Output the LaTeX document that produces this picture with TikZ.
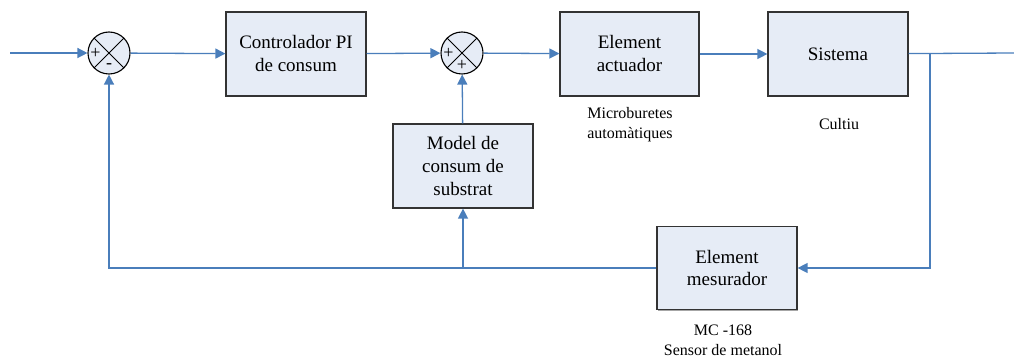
\documentclass[tikz,border=0pt]{standalone}
\usepackage{fontspec}
\setmainfont{Liberation Serif}
\usetikzlibrary{arrows.meta,positioning,shadows}
\definecolor{wireblue}{HTML}{4A7EBB}
\definecolor{blkfill}{HTML}{E6ECF6}
\tikzset{blk/.style={draw=black!80, line width=1.2pt, fill=blkfill, align=center, font=\fontsize{19}{23}\selectfont, drop shadow={shadow xshift=1.2pt, shadow yshift=-1.2pt, opacity=0.7}}}
\tikzset{sumj/.style={circle, draw=black, line width=1.1pt, fill=blkfill, minimum size=42pt, inner sep=0pt}}
\tikzset{sgn/.style={inner sep=0pt, font=\fontsize{18}{18}\selectfont}}
\tikzset{wire/.style={draw=wireblue, line width=1.3pt}}
\tikzset{arr/.style={wire, -{Triangle[length=10pt, width=10pt]}}}
\tikzset{note/.style={align=center, font=\fontsize{16}{20}\selectfont}}

\begin{document}
\begin{tikzpicture}[x=1pt, y=-1pt]
	\useasboundingbox (0,0) rectangle (1014,358);

	% summing junctions
	\node[sumj] (S1) at (109,53) {};
	\node[sumj] (S2) at (462,53) {};
	\foreach \s in {S1,S2}{
		\draw[line width=0.9pt] (\s.north west) -- (\s.south east);
		\draw[line width=0.9pt] (\s.north east) -- (\s.south west);
	}
	\node[sgn] at ([xshift=8pt]S1.west) {+};
	\node[sgn] at ([yshift=9pt]S1.south) {-};
	\node[sgn] at ([xshift=8pt]S2.west) {+};
	\node[sgn] at ([yshift=9pt]S2.south) {+};

	% blocks
	\node[blk, minimum width=140pt, minimum height=84pt] (ctrl) at (296,54) {Controlador PI\\de consum};
	\node[blk, minimum width=139pt, minimum height=84pt] (act) at (629.5,54) {Element\\actuador};
	\node[blk, minimum width=140pt, minimum height=84pt] (sys) at (838,54) {Sistema};
	\node[blk, minimum width=140pt, minimum height=84pt] (model) at (463,166) {Model de\\consum de\\substrat};
	\node[blk, minimum width=140pt, minimum height=83pt] (meas) at (727,268) {Element\\mesurador};

	% notes under the blocks
	\node[note] (actnote) at (630,125) {Microburetes\\automàtiques};
	\node[note] (sysnote) at (839,124) {Cultiu};
	\node[note] (measnote) at (723,340) {MC -168\\Sensor de metanol};

	% free ends and branch points
	\coordinate (in) at (10,53);
	\coordinate (out) at (1014,53);
	\coordinate (tap) at (930,53);
	\coordinate (split) at (463,267);

	% forward path
	\draw[arr] (in) -- (S1);
	\draw[arr] (S1) -- (ctrl);
	\draw[arr] (ctrl) -- (S2);
	\draw[arr] (S2) -- (act);
	\draw[arr] (act) -- (sys);
	\draw[wire] (sys) -- (out);

	% feedback path
	\draw[arr] (tap) |- (meas);
	\draw[arr] (meas) -| (S1);
	\draw[arr] (split) -- (model);
	\draw[arr] (model) -- (S2);
\end{tikzpicture}
\end{document}
